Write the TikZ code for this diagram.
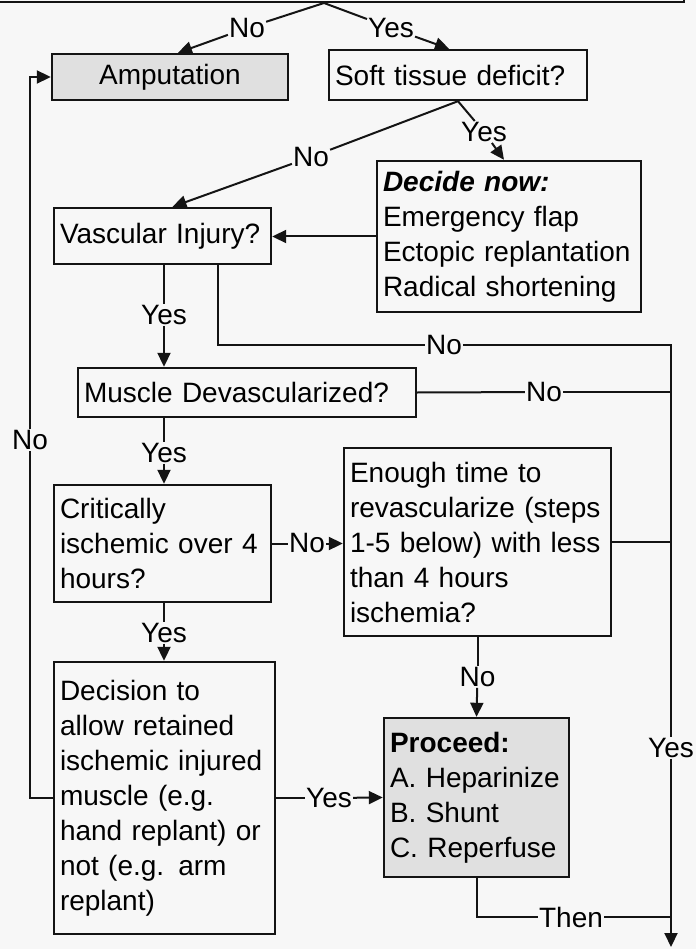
\documentclass[tikz,border=0pt]{standalone}
\usepackage{fontspec}
\setmainfont{Liberation Sans}
\usepackage{xcolor}
\usepackage{tikz}
\usetikzlibrary{arrows.meta, positioning}

\definecolor{pagegray}{RGB}{247,247,247}
\definecolor{boxgray}{RGB}{224,224,224}
\definecolor{inkgray}{RGB}{20,20,20}

\tikzset{
	flowbox/.style={draw=inkgray, line width=2.4pt, align=left, inner xsep=6pt, inner ysep=0pt,
	font=\fontsize{28}{35}\selectfont}
}
\tikzset{
	shadedbox/.style={flowbox, fill=boxgray}
}
\tikzset{
	answer/.style={fill=pagegray, inner sep=1pt, font=\fontsize{28}{35}\selectfont}
}
\tikzset{
	link/.style={draw=inkgray, line width=2pt}
}
\tikzset{
	arrowlink/.style={link, -{Triangle[length=14pt, width=13pt]}}
}

\begin{document}
\begin{tikzpicture}[x=1pt, y=-1pt]

		% page, in pixels of the picture
		\fill[pagegray] (0,0) rectangle (696,949);
		\useasboundingbox (0,0) rectangle (696,949);
		\clip (0,0) rectangle (696,949);

		% reference values
		\newcommand{\railx}{671}
		\newcommand{\loopx}{30}

		% box cut off by the top edge
		\node[flowbox, minimum width=800pt, minimum height=100pt, anchor=south east] (topbox) at (685,3) {};
		\coordinate (apex) at (324,3);

		% boxes
		\node[shadedbox, align=center, text width=224pt, minimum height=46pt] (amput) at (170,77) {Amputation};
		\node[flowbox, text width=246pt, minimum height=50pt] (soft) at (458,75) {Soft tissue deficit?};
		\node[flowbox, text width=252pt, minimum height=151pt] (decide) at (509,236.5)
			{\textbf{\textit{Decide now:}}\\Emergency flap\\Ectopic replantation\\Radical shortening};
		\node[flowbox, text width=205pt, minimum height=56pt] (vasc) at (162.5,236) {Vascular Injury?};
		\node[flowbox, text width=326pt, minimum height=49pt] (muscle) at (247,392.5) {Muscle Devascularized?};
		\node[flowbox, text width=205pt, minimum height=117pt] (crit) at (162.5,543.5)
			{Critically\\ischemic over 4\\hours?};
		\node[flowbox, text width=255pt, minimum height=188pt] (enough) at (477.5,542)
			{Enough time to\\revascularize (steps\\1-5 below) with less\\than 4 hours\\ischemia?};
		\node[flowbox, text width=209pt, minimum height=272pt] (decis) at (164.5,798)
			{Decision to\\allow retained\\ischemic injured\\muscle (e.g.\\hand replant) or\\not (e.g. arm\\replant)};
		\node[shadedbox, text width=173pt, minimum height=159pt] (proceed) at (476.5,797.5)
			{\textbf{Proceed:}\\A. Heparinize\\B. Shunt\\C. Reperfuse};

		% answers on the lines
		\node[answer] (no1) at (247,28) {No};
		\node[answer] (yes1) at (391,28) {Yes};
		\node[answer] (no2) at (311,157) {No};
		\node[answer] (yes2) at (484,132) {Yes};
		\node[answer] (yes3) at (164,315) {Yes};
		\node[answer] (no3) at (444,345) {No};
		\node[answer] (no4) at (544,392) {No};
		\node[answer] (yes4) at (164,453) {Yes};
		\node[answer] (no5) at (307,543.5) {No};
		\node[answer] (yes5) at (164,633) {Yes};
		\node[answer] (no6) at (477.5,677) {No};
		\node[answer] (no7) at (\loopx,440) {No};
		\node[answer] (yes7) at (329,798) {Yes};
		\node[answer] (yes6) at (\railx,748) {Yes};
		\node[answer] (then) at (571,917) {Then};

		% right rail
		\coordinate (railtop) at (\railx,345);
		\coordinate (railend) at (\railx,947);

		% top split
		\draw[link] (apex) -- (no1);
		\draw[arrowlink] (no1) -- ([xshift=8pt]amput.north);
		\draw[link] (apex) -- (yes1);
		\draw[arrowlink] (yes1) -- ([xshift=-9pt]soft.north);

		% soft tissue
		\draw[link] (soft.south) -- (no2);
		\draw[arrowlink] (no2) -- ([xshift=10pt]vasc.north);
		\draw[link] (soft.south) -- (yes2);
		\draw[arrowlink] (yes2) -- ([xshift=-5pt]decide.north);
		\draw[arrowlink] (decide.west) -- (decide.west -| vasc.east);

		% vascular injury
		\draw[link] (yes3 |- vasc.south) -- (yes3);
		\draw[arrowlink] (yes3) -- (yes3 |- muscle.north);
		\draw[link] ([xshift=55.5pt]vasc.south) |- (no3);
		\draw[link] (no3) -- (railtop) -- (yes6);
		\draw[arrowlink] (yes6) -- (railend);

		% muscle
		\draw[link] (muscle.east) -- (no4);
		\draw[link] (no4) -- (no4 -| railtop);
		\draw[link] (yes4 |- muscle.south) -- (yes4);
		\draw[arrowlink] (yes4) -- (yes4 |- crit.north);

		% ischemia
		\draw[link] (crit.east) -- (no5);
		\draw[arrowlink] (no5) -- (no5 -| enough.west);
		\draw[link] (enough.east) -- (enough.east -| railtop);
		\draw[link] (enough.south) -- (no6);
		\draw[arrowlink] (no6) -- (proceed.north);
		\draw[link] (yes5 |- crit.south) -- (yes5);
		\draw[arrowlink] (yes5) -- (yes5 |- decis.north);

		% decision
		\draw[link] (decis.west) -| (no7);
		\draw[arrowlink] (no7) |- (amput.west);
		\draw[link] (decis.east) -- (yes7);
		\draw[arrowlink] (yes7) -- (proceed.west);
		\draw[link] (proceed.south) |- (then);
		\draw[link] (then) -- (then -| railtop);

	\end{tikzpicture}
\end{document}
